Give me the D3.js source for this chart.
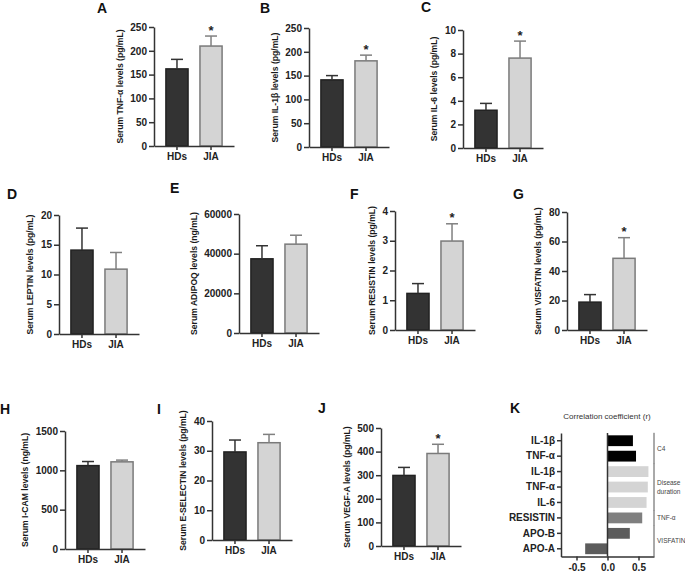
<!DOCTYPE html>
<html>
<head>
<meta charset="utf-8">
<script src="https://cdn.jsdelivr.net/npm/d3@7"></script>
<style>
  html, body { margin: 0; padding: 0; background: #fff; }
  svg { display: block; }
  text { font-family: "Liberation Sans", Arial, Helvetica, sans-serif; }
</style>
</head>
<body>
<div id="chart"></div>
<script>
// ---------------- DATA ----------------
const groups = ["HDs", "JIA"];
const panelLetters = ["A", "B", "C", "D", "E", "F", "G", "H", "I", "J"];
const panelTitles = [
  "Serum TNF-α levels (pg/mL)",
  "Serum IL-1β levels (pg/mL)",
  "Serum IL-6 levels (pg/mL)",
  "Serum LEPTIN levels (pg/mL)",
  "Serum ADIPOQ levels (ng/mL)",
  "Serum RESISTIN levels (pg/mL)",
  "Serum VISFATIN levels (pg/mL)",
  "Serum I-CAM levels (ng/mL)",
  "Serum E-SELECTIN levels (pg/mL)",
  "Serum VEGF-A levels (pg/mL)"
];
const hdsMean  = [162, 141, 3.2, 14.1, 37400, 1.23, 18.9, 1060, 29.6, 299];
const hdsUpper = [182, 150, 3.78, 17.8, 44000, 1.56, 24.0, 1112, 33.6, 333];
const jiaMean  = [210, 181, 7.62, 10.9, 44800, 2.99, 48.6, 1108, 32.7, 392];
const jiaUpper = [231, 193, 9.06, 13.7, 49300, 3.57, 62.6, 1130, 35.5, 431];
const significant = [true, true, true, false, false, true, true, false, false, true];
const yMax  = [250, 250, 10, 20, 60000, 4, 80, 1500, 40, 500];
const yStep = [50, 50, 2, 5, 20000, 1, 20, 500, 10, 100];

// Panel K
const kLabels = ["IL-1β", "TNF-α", "IL-1β", "TNF-α", "IL-6", "RESISTIN", "APO-B", "APO-A"];
const kValues = [0.41, 0.46, 0.66, 0.65, 0.63, 0.56, 0.36, -0.36];
const kGroupOf = [0, 0, 1, 1, 1, 2, 3, 3];
const kGroupNames = [["C4"], ["Disease", "duration"], ["TNF-α"], ["VISFATIN"]];
const kTicks = [-0.5, 0, 0.5];
const kTitle = "Correlation coefficient (r)";

// ---------------- LAYOUT / STYLE ----------------
const W = 685, H = 574;
const layout = [
  {ax: 154, top: 27,  bot: 146, lx: 97,  ly: 13},
  {ax: 309, top: 28,  bot: 147, lx: 260, ly: 13},
  {ax: 463, top: 30,  bot: 148, lx: 421, ly: 12},
  {ax: 59,  top: 215, bot: 334, lx: 7,   ly: 199},
  {ax: 239, top: 214, bot: 333, lx: 170, ly: 193},
  {ax: 395, top: 211, bot: 330, lx: 350, ly: 199},
  {ax: 567, top: 212, bot: 330, lx: 513, ly: 199},
  {ax: 65,  top: 431, bot: 549, lx: 0,   ly: 414},
  {ax: 212, top: 421, bot: 540, lx: 157, ly: 414},
  {ax: 381, top: 428, bot: 546, lx: 318, ly: 413}
];
const axisColor = "#333";
const barFill = ["#333333", "#d4d4d4"];
const barStroke = ["#222222", "#7a7a7a"];
const errColor = ["#333333", "#808080"];

const svg = d3.select("#chart").append("svg")
  .attr("width", W).attr("height", H);

function styleAxis(g) {
  g.selectAll(".domain").attr("stroke", axisColor).attr("stroke-width", 1.5);
  g.selectAll(".tick line").attr("stroke", axisColor).attr("stroke-width", 1.5);
  g.selectAll(".tick text").attr("fill", "#222").attr("font-weight", "bold")
    .attr("font-size", 10).attr("font-family", '"Liberation Sans", Arial, sans-serif');
}

panelLetters.forEach((letter, i) => {
  const L = layout[i];
  const g = svg.append("g");
  const y = d3.scaleLinear().domain([0, yMax[i]]).range([L.bot, L.top]);
  const x = d3.scaleBand().domain(groups).range([L.ax, L.ax + 80])
    .paddingInner(0.35).paddingOuter(0.35);

  const means = [hdsMean[i], jiaMean[i]];
  const uppers = [hdsUpper[i], jiaUpper[i]];

  // bars
  groups.forEach((grp, j) => {
    g.append("rect")
      .attr("x", x(grp)).attr("y", y(means[j]))
      .attr("width", x.bandwidth()).attr("height", y(0) - y(means[j]))
      .attr("fill", barFill[j]).attr("stroke", barStroke[j]).attr("stroke-width", 1.5);
    const cx = x(grp) + x.bandwidth() / 2;
    g.append("line").attr("x1", cx).attr("x2", cx)
      .attr("y1", y(means[j])).attr("y2", y(uppers[j]))
      .attr("stroke", errColor[j]).attr("stroke-width", 1.5);
    g.append("line").attr("x1", cx - 6).attr("x2", cx + 6)
      .attr("y1", y(uppers[j])).attr("y2", y(uppers[j]))
      .attr("stroke", errColor[j]).attr("stroke-width", 1.5);
  });
  if (significant[i]) {
    const cx = x("JIA") + x.bandwidth() / 2;
    g.append("text").attr("x", cx).attr("y", y(jiaUpper[i]) - 1.5)
      .attr("text-anchor", "middle").attr("font-size", 13).attr("font-weight", "bold")
      .attr("fill", "#222").text("*");
  }

  // axes
  const ticks = d3.range(0, yMax[i] + yStep[i] / 2, yStep[i]);
  const yAxis = g.append("g").attr("transform", `translate(${L.ax},0)`)
    .call(d3.axisLeft(y).tickValues(ticks).tickSize(5).tickSizeOuter(0).tickPadding(2)
      .tickFormat(d3.format("d")));
  styleAxis(yAxis);
  const xAxis = g.append("g").attr("transform", `translate(0,${L.bot})`)
    .call(d3.axisBottom(x).tickSize(4).tickSizeOuter(0).tickPadding(3));
  styleAxis(xAxis);

  // y title
  const tw = yAxis.node().getBBox().width;
  const tx = L.ax - tw - 7;
  g.append("text")
    .attr("transform", `translate(${tx},${(L.top + L.bot) / 2}) rotate(-90)`)
    .attr("text-anchor", "middle").attr("font-size", 8.6).attr("font-weight", "bold")
    .attr("fill", "#1a1a1a").text(panelTitles[i]);

  // panel letter
  svg.append("text").attr("x", L.lx).attr("y", L.ly)
    .attr("font-size", 14).attr("font-weight", "bold").attr("fill", "#111").text(letter);
});

// ---------------- PANEL K ----------------
(function () {
  const g = svg.append("g");
  const top = 433, bot = 556.5, left = 561;
  const x = d3.scaleLinear().domain([-0.75, 0.75]).range([left, 654]);
  const y = d3.scaleBand().domain(d3.range(kLabels.length)).range([top, bot])
    .paddingInner(0.3).paddingOuter(0.15);
  const kColors = ["#000000", "#d4d4d4", "#7f7f7f", "#5c5c5c"];

  kValues.forEach((v, i) => {
    g.append("rect")
      .attr("x", x(Math.min(0, v))).attr("y", y(i))
      .attr("width", Math.abs(x(v) - x(0))).attr("height", y.bandwidth())
      .attr("fill", kColors[kGroupOf[i]]);
  });

  // zero line
  g.append("line").attr("x1", x(0)).attr("x2", x(0)).attr("y1", top).attr("y2", bot)
    .attr("stroke", axisColor).attr("stroke-width", 1.5);

  const yAxis = g.append("g").attr("transform", `translate(${left},0)`)
    .call(d3.axisLeft(y).tickSize(4).tickSizeOuter(0).tickPadding(2)
      .tickFormat(i => kLabels[i]));
  styleAxis(yAxis);
  const xAxis = g.append("g").attr("transform", `translate(0,${bot})`)
    .call(d3.axisBottom(x).tickValues(kTicks).tickSize(4).tickSizeOuter(0).tickPadding(3)
      .tickFormat(d3.format(".1f")));
  styleAxis(xAxis);
  xAxis.selectAll(".tick text").text(d => d3.format(".1f")(d).replace("−", "-"));

  // brackets
  const bx = 654;
  kGroupNames.forEach((lines, gi) => {
    const idx = kGroupOf.map((d, i) => d === gi ? i : -1).filter(i => i >= 0);
    const y1 = y(idx[0]) - 2.5;
    const y2 = y(idx[idx.length - 1]) + y.bandwidth() + 2.5;
    g.append("line").attr("x1", bx).attr("x2", bx).attr("y1", y1).attr("y2", y2)
      .attr("stroke", "#555").attr("stroke-width", 1);
    const cy = (y1 + y2) / 2;
    lines.forEach((t, li) => {
      g.append("text").attr("x", bx + 3)
        .attr("y", cy + (li - (lines.length - 1) / 2) * 8.5 + 2.3)
        .attr("font-size", 6.5).attr("fill", "#444").text(t);
    });
  });

  g.append("text").attr("x", 607).attr("y", 419).attr("text-anchor", "middle")
    .attr("font-size", 8).attr("fill", "#333").text(kTitle);
  svg.append("text").attr("x", 510).attr("y", 413)
    .attr("font-size", 14).attr("font-weight", "bold").attr("fill", "#111").text("K");
})();
</script>
</body>
</html>
